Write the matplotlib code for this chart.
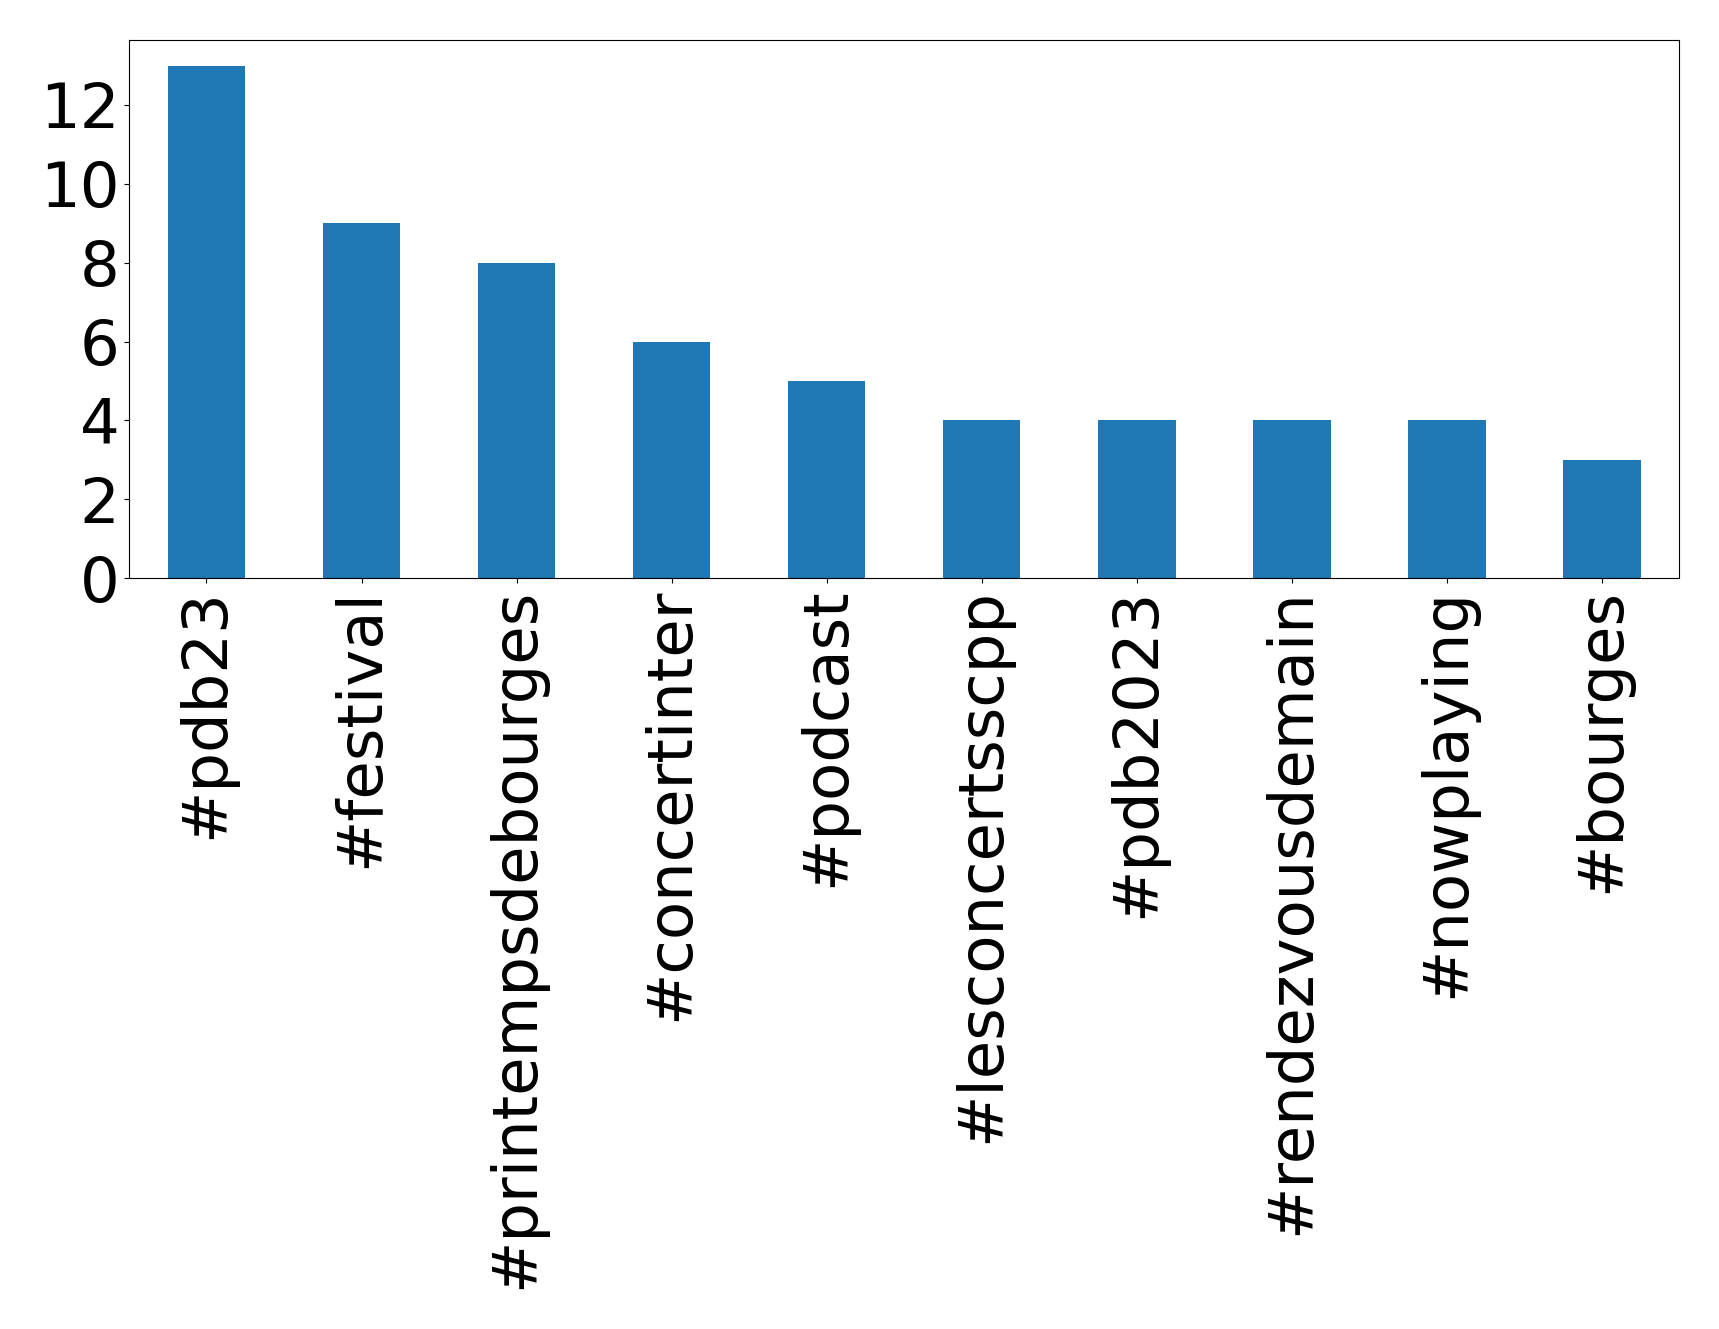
import matplotlib
matplotlib.use("Agg")
import matplotlib.pyplot as plt
import numpy as np

hashtags = ["#pdb23", "#festival", "#printempsdebourges", "#concertinter", "#podcast",
            "#lesconcertsscpp", "#pdb2023", "#rendezvousdemain", "#nowplaying", "#bourges"]
counts = [13, 9, 8, 6, 5, 4, 4, 4, 4, 3]

fig = plt.figure(figsize=(17.19, 13.29), dpi=100)
ax = fig.add_axes([0.075, 0.565, 0.902, 0.405])
x = np.arange(len(hashtags))
ax.bar(x, counts, width=0.5, color="#1f77b4")
ax.set_xlim(-0.5, len(hashtags) - 0.5)
ax.set_ylim(0, max(counts) * 1.05)
ax.set_xticks(x)
ax.set_xticklabels(hashtags, rotation=90)
ax.set_yticks([0, 2, 4, 6, 8, 10, 12])
ax.tick_params(axis="both", labelsize=45)
fig.savefig("out.png", dpi=100)
